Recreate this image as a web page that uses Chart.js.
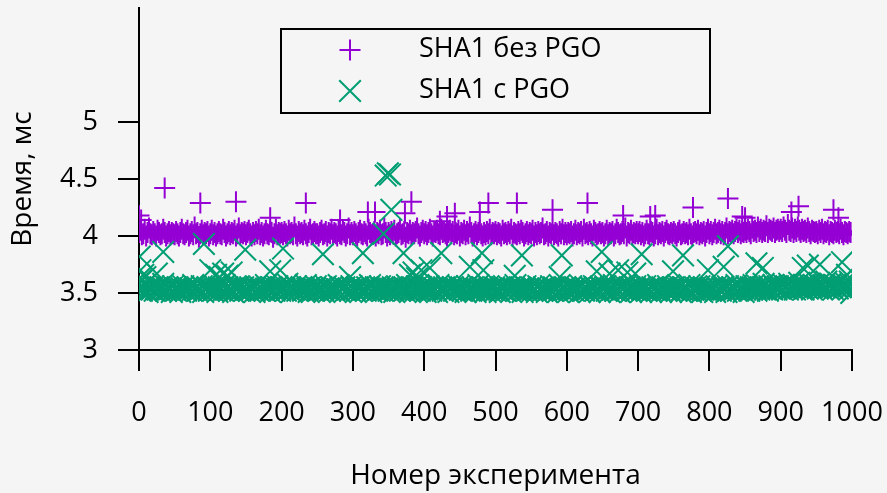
<!DOCTYPE html>
<html lang="ru">
<head>
    <meta charset="UTF-8">
    <title>SHA1 без PGO / с PGO</title>
    <script src="https://cdn.jsdelivr.net/npm/chart.js@4"></script>
    <style>
        html, body { margin: 0; padding: 0; background: #f5f5f5; }
        #wrap { width: 887px; height: 493px; }
    </style>
</head>
<body>
<div id="wrap"><canvas id="chart"></canvas></div>
<script>
    // base runs, one value per 2 experiments (0, 2, 4 ... 998)
    const step = 2;
    const noPgoBase = [
        4.03,4.05,4.01,4.02,4.06,4.00,4.03,4.07,4.02,4.01,4.04,4.02,4.00,4.05,4.03,4.01,4.02,4.06,4.03,4.00,4.02,4.04,4.01,4.03,4.02,
        4.01,4.04,4.02,4.00,4.03,4.06,4.02,4.01,4.03,4.05,4.00,4.02,4.04,4.01,4.08,4.02,4.03,3.99,4.02,4.05,4.01,4.03,4.02,4.04,4.00,
        4.02,4.05,4.01,4.03,4.00,4.02,4.04,4.02,4.01,4.06,4.03,4.00,4.02,4.04,4.01,4.03,4.02,4.05,4.00,4.02,4.07,4.01,4.03,4.02,4.04,
        4.01,4.03,4.05,4.02,4.00,4.03,4.01,4.04,4.02,4.06,4.01,4.03,4.00,4.02,4.05,4.02,4.01,4.04,4.03,3.99,4.02,4.06,4.01,4.03,4.02,
        4.03,4.01,4.04,4.02,4.00,4.05,4.02,4.03,4.01,4.08,4.02,4.00,4.04,4.02,4.03,4.01,4.05,4.02,4.00,4.03,4.06,4.01,4.02,4.04,4.02,
        4.02,4.00,4.03,4.05,4.01,4.02,4.04,4.00,4.03,4.02,4.06,4.01,4.03,4.02,4.00,4.04,4.02,4.01,4.05,4.03,4.00,4.02,4.07,4.01,4.03,
        4.01,4.04,4.02,4.00,4.03,4.05,4.02,4.01,4.04,4.02,4.00,4.06,4.03,4.01,4.02,4.04,4.00,4.03,4.02,4.05,4.01,4.02,4.07,4.03,4.00,
        4.03,4.01,4.04,4.02,4.05,4.00,4.02,4.03,4.06,4.01,4.02,4.04,3.99,4.03,4.02,4.05,4.01,4.03,4.02,4.04,4.07,4.02,4.00,4.03,4.05,
        4.02,4.04,4.01,4.03,4.06,4.02,4.00,4.04,4.03,4.05,4.02,4.01,4.06,4.03,4.04,4.02,4.00,4.03,4.05,4.02,4.04,4.01,4.03,4.02,4.05,
        4.00,4.03,4.02,4.05,4.01,4.04,4.02,4.08,4.03,4.00,4.02,4.04,4.01,4.03,4.05,4.02,4.00,4.03,4.01,4.04,4.02,4.06,4.01,4.03,4.02,
        4.04,4.01,4.03,4.02,4.00,4.05,4.02,4.03,4.01,4.04,4.02,4.06,4.00,4.03,4.02,4.01,4.04,4.02,4.05,4.03,4.00,4.02,4.04,4.01,4.03,
        4.02,4.05,4.00,4.03,4.01,4.04,4.02,4.03,4.07,4.01,4.02,4.04,4.00,4.03,4.02,4.05,4.01,4.03,4.02,4.00,4.04,4.02,4.06,4.01,4.03,
        4.01,4.03,4.02,4.04,4.00,4.02,4.05,4.01,4.03,4.02,4.04,4.00,4.06,4.02,4.03,4.01,4.04,4.02,4.00,4.05,4.03,4.01,4.02,4.04,4.02,
        4.03,4.00,4.02,4.05,4.01,4.03,4.02,4.04,4.00,4.02,4.06,4.03,4.01,4.02,4.04,4.02,4.07,4.00,4.03,4.02,4.05,4.01,4.03,4.02,4.04,
        4.02,4.04,4.01,4.03,4.00,4.02,4.05,4.02,4.01,4.04,4.03,4.00,4.02,4.06,4.01,4.03,4.02,4.04,4.00,4.03,4.05,4.02,4.01,4.03,4.02,
        4.04,4.02,4.00,4.03,4.05,4.01,4.02,4.04,4.02,4.03,4.01,4.06,4.02,4.00,4.03,4.04,4.02,4.05,4.01,4.03,4.02,4.04,4.00,4.03,4.06,
        4.02,4.04,4.01,4.03,4.06,4.02,4.03,4.05,4.02,4.04,4.01,4.03,4.07,4.02,4.04,4.03,4.05,4.02,4.04,4.06,4.03,4.05,4.02,4.04,4.03,
        4.05,4.03,4.06,4.04,4.02,4.07,4.04,4.05,4.03,4.08,4.04,4.06,4.03,4.05,4.04,4.09,4.03,4.06,4.05,4.04,4.07,4.03,4.05,4.06,4.04,
        4.06,4.04,4.08,4.05,4.03,4.10,4.05,4.04,4.07,4.03,4.06,4.04,4.08,4.05,4.03,4.06,4.04,4.05,4.03,4.07,4.04,4.02,4.05,4.04,4.03,
        4.04,4.02,4.05,4.03,4.06,4.02,4.04,4.03,4.05,4.01,4.04,4.03,4.02,4.05,4.03,4.04,4.02,4.06,4.03,4.01,4.04,4.03,4.02,4.04,4.03
    ];
    const pgoBase = [
        3.53,3.55,3.52,3.54,3.57,3.53,3.51,3.55,3.54,3.53,3.56,3.52,3.54,3.53,3.55,3.52,3.54,3.58,3.53,3.52,3.55,3.53,3.54,3.51,3.56,
        3.54,3.52,3.55,3.53,3.51,3.54,3.56,3.53,3.52,3.55,3.53,3.54,3.52,3.57,3.53,3.55,3.52,3.54,3.53,3.56,3.51,3.54,3.53,3.55,3.52,
        3.53,3.54,3.52,3.56,3.53,3.51,3.55,3.53,3.54,3.52,3.57,3.53,3.55,3.52,3.54,3.53,3.51,3.55,3.54,3.53,3.56,3.52,3.53,3.55,3.52,
        3.54,3.53,3.52,3.55,3.53,3.54,3.51,3.56,3.53,3.52,3.55,3.54,3.53,3.52,3.57,3.53,3.54,3.51,3.55,3.53,3.52,3.54,3.56,3.53,3.52,
        3.55,3.53,3.54,3.52,3.58,3.53,3.55,3.51,3.54,3.53,3.56,3.52,3.54,3.53,3.55,3.52,3.53,3.57,3.54,3.51,3.55,3.53,3.52,3.54,3.56,
        3.53,3.52,3.54,3.55,3.53,3.51,3.56,3.53,3.54,3.52,3.55,3.53,3.52,3.54,3.53,3.57,3.51,3.54,3.53,3.55,3.52,3.53,3.54,3.52,3.56,
        3.54,3.53,3.51,3.55,3.53,3.56,3.52,3.54,3.53,3.52,3.55,3.53,3.57,3.51,3.54,3.53,3.55,3.52,3.53,3.56,3.54,3.52,3.55,3.53,3.54,
        3.52,3.54,3.53,3.55,3.51,3.53,3.56,3.54,3.52,3.53,3.55,3.52,3.54,3.57,3.53,3.51,3.55,3.53,3.54,3.52,3.56,3.53,3.52,3.55,3.53,
        3.54,3.51,3.53,3.56,3.53,3.52,3.55,3.54,3.53,3.51,3.57,3.53,3.54,3.52,3.55,3.53,3.56,3.51,3.54,3.53,3.55,3.52,3.53,3.54,3.56,
        3.53,3.55,3.52,3.54,3.51,3.56,3.53,3.54,3.52,3.55,3.53,3.51,3.54,3.57,3.53,3.52,3.55,3.54,3.51,3.53,3.56,3.52,3.54,3.53,3.55,
        3.52,3.54,3.53,3.51,3.55,3.53,3.56,3.52,3.54,3.53,3.55,3.51,3.53,3.54,3.57,3.52,3.53,3.55,3.54,3.51,3.53,3.56,3.52,3.54,3.53,
        3.55,3.52,3.54,3.53,3.51,3.56,3.53,3.54,3.52,3.55,3.53,3.51,3.54,3.53,3.56,3.52,3.55,3.53,3.54,3.51,3.57,3.53,3.52,3.54,3.55,
        3.53,3.51,3.54,3.56,3.53,3.52,3.55,3.53,3.54,3.51,3.56,3.53,3.52,3.55,3.54,3.53,3.51,3.55,3.53,3.56,3.52,3.54,3.53,3.51,3.55,
        3.54,3.53,3.56,3.52,3.54,3.51,3.55,3.53,3.57,3.52,3.54,3.53,3.51,3.55,3.53,3.54,3.56,3.52,3.53,3.55,3.51,3.54,3.53,3.56,3.52,
        3.53,3.55,3.51,3.54,3.53,3.56,3.52,3.54,3.53,3.51,3.55,3.53,3.54,3.52,3.57,3.53,3.51,3.55,3.54,3.53,3.52,3.56,3.53,3.51,3.54,
        3.55,3.53,3.52,3.54,3.56,3.51,3.53,3.55,3.54,3.52,3.53,3.57,3.51,3.54,3.53,3.55,3.52,3.54,3.56,3.53,3.51,3.55,3.53,3.54,3.52,
        3.54,3.52,3.55,3.53,3.51,3.56,3.54,3.53,3.52,3.55,3.53,3.54,3.51,3.56,3.53,3.52,3.55,3.54,3.53,3.57,3.52,3.54,3.53,3.55,3.51,
        3.53,3.56,3.54,3.52,3.55,3.53,3.57,3.54,3.52,3.56,3.53,3.55,3.54,3.58,3.53,3.55,3.52,3.56,3.54,3.53,3.57,3.55,3.53,3.56,3.54,
        3.55,3.53,3.57,3.54,3.56,3.53,3.58,3.55,3.54,3.57,3.53,3.56,3.55,3.59,3.54,3.56,3.53,3.57,3.55,3.54,3.58,3.56,3.53,3.57,3.55,
        3.56,3.54,3.58,3.55,3.53,3.57,3.55,3.60,3.54,3.56,3.58,3.55,3.53,3.57,3.56,3.54,3.59,3.55,3.57,3.54,3.56,3.58,3.55,3.53,3.57
    ];

    // slow runs, read one by one
    const noPgoOutX = [0, 3, 36, 86, 136, 184, 234, 282, 321, 331, 373, 382, 422, 432, 443, 478, 490,
        530, 580, 629, 679, 717, 724, 777, 826, 846, 850, 915, 925, 974, 981];
    const noPgoOutY = [4.18, 4.14, 4.42, 4.29, 4.30, 4.16, 4.29, 4.14, 4.21, 4.21, 4.20, 4.30, 4.13, 4.17, 4.20, 4.21, 4.29,
        4.29, 4.23, 4.29, 4.18, 4.17, 4.18, 4.25, 4.33, 4.17, 4.16, 4.21, 4.26, 4.23, 4.16];
    const pgoOutX = [1, 2, 4, 6, 9, 25, 34, 91, 100, 108, 113, 118, 124, 130, 149, 184, 198, 202, 258, 296, 314,
        343, 346, 349, 352, 354, 371, 380, 385, 390, 396, 408, 424, 464, 481, 483, 527, 537, 590, 593,
        642, 649, 660, 672, 685, 696, 705, 749, 763, 798, 820, 826, 866, 875, 931, 938, 955, 986, 993, 997, 999];
    const pgoOutY = [3.82, 3.70, 3.62, 3.66, 3.64, 3.67, 3.86, 3.93, 3.70, 3.66, 3.64, 3.67, 3.65, 3.68, 3.88, 3.69, 3.70, 3.89, 3.84, 3.64, 3.85,
        4.02, 4.53, 4.55, 4.54, 4.23, 3.85, 3.66, 3.68, 3.63, 3.70, 3.72, 3.85, 3.73, 3.85, 3.70, 3.65, 3.83, 3.64, 3.83,
        3.69, 3.86, 3.67, 3.70, 3.68, 3.67, 3.84, 3.69, 3.83, 3.70, 3.73, 3.91, 3.76, 3.72, 3.72, 3.74, 3.75, 3.77, 3.66, 3.60, 3.50];

    const seriesLabels = ["SHA1 без PGO", "SHA1 с PGO"];
    const seriesColors = ["#9400d3", "#009e73"];
    const xTicks = [0, 100, 200, 300, 400, 500, 600, 700, 800, 900, 1000];
    const yTicks = [3, 3.5, 4, 4.5, 5];

    function toPoints(base, outX, outY) {
        const pts = base.map((v, i) => ({ x: i * step, y: v }));
        outX.forEach((x, i) => pts.push({ x: x, y: outY[i] }));
        return pts;
    }

    const tickFont = { family: "'Open Sans'", size: 27 };
    const titleFont = { family: "'Open Sans'", size: 28 };

    const legendBox = {
        id: "legendBox",
        afterDraw(chart, args, opts) {
            const { ctx } = chart;
            ctx.save();
            ctx.strokeStyle = "#000";
            ctx.lineWidth = 2;
            ctx.strokeRect(opts.left, opts.top, opts.width, opts.height);
            ctx.font = opts.fontSize + "px 'Open Sans'";
            ctx.textAlign = "left";
            ctx.textBaseline = "middle";
            chart.data.datasets.forEach((ds, i) => {
                const y = opts.top + opts.rowTop + i * opts.rowGap;
                ctx.strokeStyle = ds.borderColor;
                ctx.lineWidth = ds.pointBorderWidth;
                Chart.helpers.drawPoint(ctx, {
                    pointStyle: ds.pointStyle, radius: ds.pointRadius,
                    borderWidth: ds.pointBorderWidth, rotation: 0
                }, opts.left + opts.markerX, y);
                ctx.fillStyle = "#000";
                ctx.fillText(ds.label, opts.left + opts.textX, y - 1);
            });
            ctx.restore();
        }
    };

    new Chart(document.getElementById("chart"), {
        type: "scatter",
        data: {
            datasets: [
                {
                    label: seriesLabels[0],
                    data: toPoints(noPgoBase, noPgoOutX, noPgoOutY),
                    borderColor: seriesColors[0],
                    backgroundColor: seriesColors[0],
                    pointStyle: "cross",
                    pointRadius: 10.5,
                    pointBorderWidth: 2,
                    order: 1
                },
                {
                    label: seriesLabels[1],
                    data: toPoints(pgoBase, pgoOutX, pgoOutY),
                    borderColor: seriesColors[1],
                    backgroundColor: seriesColors[1],
                    pointStyle: "crossRot",
                    pointRadius: 15.3,
                    pointBorderWidth: 2,
                    order: 0
                }
            ]
        },
        options: {
            responsive: true,
            maintainAspectRatio: false,
            animation: false,
            layout: { autoPadding: false, padding: { top: 8, right: 35, left: 0, bottom: 0 } },
            scales: {
                x: {
                    type: "linear",
                    min: 0,
                    max: 1000,
                    afterBuildTicks: s => { s.ticks = xTicks.map(v => ({ value: v })); },
                    afterFit: s => { s.height = 143; s.paddingLeft = 0; s.paddingRight = 0; },
                    border: { color: "#000", width: 2 },
                    grid: { drawOnChartArea: false, color: "#000", lineWidth: 2, tickLength: 21 },
                    ticks: { color: "#000", font: tickFont, padding: 26, maxRotation: 0, autoSkip: false,
                        callback: v => String(v) },
                    title: { display: true, text: "Номер эксперимента", color: "#000", font: titleFont, padding: { top: 0, bottom: 0 } }
                },
                y: {
                    min: 3,
                    max: 6,
                    afterBuildTicks: s => { s.ticks = yTicks.map(v => ({ value: v })); },
                    afterFit: s => { s.width = 139; s.paddingTop = 0; s.paddingBottom = 0; },
                    border: { color: "#000", width: 2 },
                    grid: { drawOnChartArea: false, color: "#000", lineWidth: 2, tickLength: 21 },
                    ticks: { color: "#000", font: tickFont, padding: 20, callback: v => String(v) },
                    title: { display: true, text: "Время, мс", color: "#000", font: titleFont, padding: { top: 6, bottom: 0 } }
                }
            },
            plugins: {
                legend: { display: false },
                tooltip: { enabled: false },
                legendBox: {
                    left: 281, top: 29, width: 429, height: 84,
                    markerX: 69, textX: 138, rowTop: 21, rowGap: 41, fontSize: 27
                }
            }
        },
        plugins: [legendBox]
    });
</script>
</body>
</html>
